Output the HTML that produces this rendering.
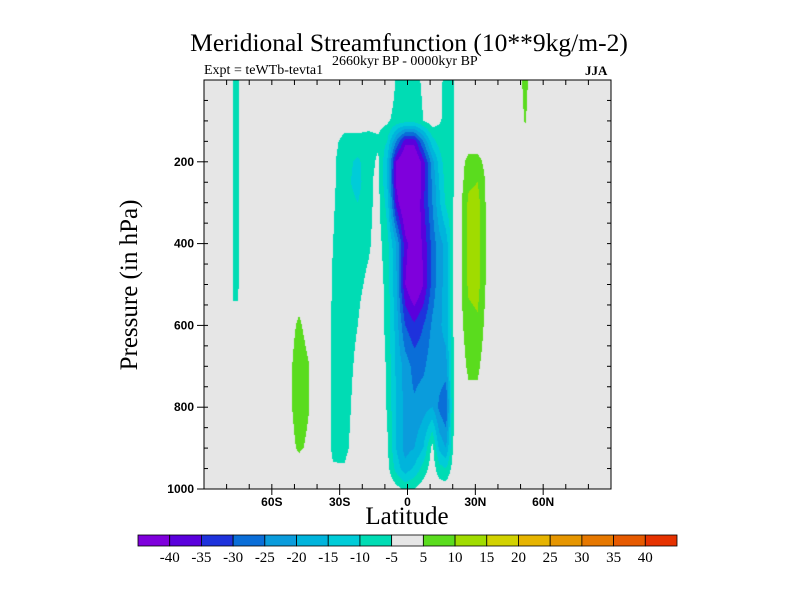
<!DOCTYPE html>
<html><head><meta charset="utf-8">
<style>
body{margin:0;background:#fff;width:800px;height:600px;overflow:hidden;position:relative;font-family:"Liberation Serif",serif}
.t{position:absolute;white-space:nowrap}
</style></head>
<body>
<div class="t" style="left:0;width:818px;text-align:center;top:28px;font-size:25.5px;">Meridional Streamfunction (10**9kg/m-2)</div>
<div class="t" style="left:204px;top:63px;font-size:14px;">Expt = teWTb-tevta1</div>
<div class="t" style="left:332px;top:54px;font-size:14px;">2660kyr BP - 0000kyr BP</div>
<div class="t" style="left:585px;top:63px;font-size:13px;font-weight:bold;">JJA</div>
<div class="t" style="left:130px;top:285px;font-size:25px;transform:translate(-50%,-50%) rotate(-90deg);">Pressure (in hPa)</div>
<div class="t" style="left:0;width:814px;text-align:center;top:503px;font-size:25px;">Latitude</div>
<canvas id="cv" width="407" height="409" style="position:absolute;left:204px;top:80px;"></canvas>
<svg id="ax" width="800" height="600" style="position:absolute;left:0;top:0"></svg>
<script>
const lats=[-90,-79,-77,-75,-73,-60,-52,-48,-44,-38,-33,-28,-22,-17,-13,-9,-5,-1,3,7,11,14,17,20,23,27,31,35,40,48,52,55,90];
const pres=[0,100,150,200,250,300,400,500,600,700,800,900,950,1000];
// rows by pressure, columns by latitude
const psi=[
/*0*/   [0,0,-6,-6,0,0,0,0,0,0,0,0,0,0,0,0,-5.5,-7,-7,-4,0,-4,-6,-6,0,0,0,0,0,2,6.5,3,0],
/*100*/ [0,0,-6,-6,0,0,0,0,0,0,0,-2,-2,-3,-3,-4,-7,-8,-8,-5,-2,-4.5,-6,-6,0,0,0,0,0,1,5.5,2,0],
/*150*/ [0,0,-6,-6,0,0,0,0,0,0,-3,-7,-7,-7,-6,-10,-25,-38,-38,-25,-12,-8,-6,-6,0,2,2,0,0,0,2,0,0],
/*200*/ [0,0,-6,-6,0,0,0,0,0,0,-4,-8,-11,-7,-4,-15,-40,-48,-48,-37,-22,-13,-7,-6,2,7,7,3,0,0,0,0,0],
/*250*/ [0,0,-6,-6,0,0,0,0,0,0,-4,-8,-12,-6,-3.5,-15,-41,-50,-50,-37,-24,-15,-8,-6,2,9,10,4,0,0,0,0,0],
/*300*/ [0,0,-6,-6,0,0,0,0,0,0,-4.5,-7.5,-10,-6,-3.5,-12,-37,-48,-48,-36,-25,-16,-9,-6,3,11,12,4,0,0,0,0,0],
/*400*/ [0,0,-6,-6,0,0,0,0,0,0,-5,-7,-7,-5.5,-3,-8,-20,-38,-45,-39,-28,-22,-18,-6,3,12,12,4,0,0,0,0,0],
/*500*/ [0,0,-6,-6,0,0,0,2,0,0,-5.5,-6.5,-6,-4,-2,-7,-19,-40,-47,-40,-28,-22,-18,-6,3,11,12,4,0,0,0,0,0],
/*600*/ [0,0,-3.5,-3.5,0,0,3,6,3,0,-6,-7,-5,-2,-1,-7,-17,-30,-34,-30,-24,-21,-18,-6,3,8,9,3,0,0,0,0,0],
/*700*/ [0,0,0,0,0,0,4,8,5.5,0,-6,-7,-4,-1,0,-6,-16,-22,-27,-26,-22,-22,-22,-6,2,6,6,2,0,0,0,0,0],
/*800*/ [0,0,0,0,0,0,4,8,5.5,0,-6,-7,-3,0,0,-5.5,-15,-22,-24,-22,-20,-26,-30,-6,0,3,3,0,0,0,0,0,0],
/*900*/ [0,0,0,0,0,0,3,6,4,0,-6,-6.5,-2,0,0,-4,-15,-22,-20,-15,-3,-16,-20,-5.5,0,0,0,0,0,0,0,0,0],
/*950*/ [0,0,0,0,0,0,0,2,0,0,-4.5,-4.5,-1,0,0,-3,-12,-18,-14,-8,-2,-8,-10,-3,0,0,0,0,0,0,0,0,0],
/*1000*/[0,0,0,0,0,0,0,0,0,0,0,0,0,0,0,0,-3,-6,-5,-2,0,-2,-2,0,0,0,0,0,0,0,0,0,0]
];
const levels=[-40,-35,-30,-25,-20,-15,-10,-5,5,10,15,20,25,30,35,40];
const colors=['#7f00dc','#5a00dc','#1e32dc','#0a6ed8','#0a9cdc','#00b4dc','#00ccd8','#00dcb4','#e6e6e6','#5adc1e','#a0dc00','#d2d200','#e6b400','#e69600','#e67800','#e65a00','#e63200'];
const latTicks=[-60,-30,0,30,60];
const latLabels=['60S','30S','0','30N','60N'];
const pTicks=[200,400,600,800,1000];

const X0=204,X1=611,Y0=80,Y1=489;
const xs=l=>X0+(l+90)/180*(X1-X0);
const ys=p=>Y0+p/1000*(Y1-Y0);
function seg(arr,v){let i=0;while(i<arr.length-2&&v>arr[i+1])i++;const f=(v-arr[i])/(arr[i+1]-arr[i]);return [i,Math.max(0,Math.min(1,f))];}
function val(l,p){const [i,fx]=seg(lats,l);const [j,fy]=seg(pres,p);
 const a=psi[j][i],b=psi[j][i+1],c=psi[j+1][i],d=psi[j+1][i+1];
 return (a*(1-fx)+b*fx)*(1-fy)+(c*(1-fx)+d*fx)*fy;}
function lev(v){let k=0;while(k<levels.length&&v>=levels[k])k++;return k;}
const cv=document.getElementById('cv');const ctx=cv.getContext('2d');
const W=cv.width,H=cv.height;const img=ctx.createImageData(W,H);
const rgb=colors.map(c=>[parseInt(c.substr(1,2),16),parseInt(c.substr(3,2),16),parseInt(c.substr(5,2),16)]);
for(let y=0;y<H;y++){const p=(y+0.5)/H*1000;for(let x=0;x<W;x++){const l=-90+(x+0.5)/W*180;
 const c=rgb[lev(val(l,p))];const o=(y*W+x)*4;img.data[o]=c[0];img.data[o+1]=c[1];img.data[o+2]=c[2];img.data[o+3]=255;}}
ctx.putImageData(img,0,0);

const svg=document.getElementById('ax');const NS='http://www.w3.org/2000/svg';
function mk(t,at,parent){const e=document.createElementNS(NS,t);for(const k in at)e.setAttribute(k,at[k]);(parent||svg).appendChild(e);return e;}
const frame=mk('rect',{x:X0,y:Y0,width:X1-X0,height:Y1-Y0,fill:'none',stroke:'#000','stroke-width':1});


for(let l=-80;l<=80;l+=10){const x=xs(l);
 mk('line',{x1:x,y1:Y1,x2:x,y2:Y1-5,stroke:'#000'});mk('line',{x1:x,y1:Y0,x2:x,y2:Y0+5,stroke:'#000'});}
latTicks.forEach((l,i)=>{const x=xs(l);
 mk('line',{x1:x,y1:Y1,x2:x,y2:Y1+6,stroke:'#000'});
 const t=mk('text',{x:x,y:Y1+17,'text-anchor':'middle','font-family':'Liberation Sans,sans-serif','font-size':12,'font-weight':'bold'});
 t.textContent=latLabels[i];
 
 });
for(let p=50;p<1000;p+=50){const y=ys(p);
 mk('line',{x1:X0,y1:y,x2:X0+4,y2:y,stroke:'#000'});mk('line',{x1:X1,y1:y,x2:X1-4,y2:y,stroke:'#000'});}
pTicks.forEach(p=>{const y=ys(p);
 mk('line',{x1:X0,y1:y,x2:X0-7,y2:y,stroke:'#000'});
 const t=mk('text',{x:X0-10,y:y+4,'text-anchor':'end','font-family':'Liberation Sans,sans-serif','font-size':12,'font-weight':'bold'});
 t.textContent=p;
 
 });
// colorbar
const CB0=138,CB1=677,CBY=535,CBH=11;const bw=(CB1-CB0)/colors.length;
colors.forEach((c,i)=>{const r=mk('rect',{x:CB0+i*bw,y:CBY,width:bw,height:CBH,fill:c,stroke:'#000','stroke-width':0.8});
 
 });
levels.forEach((v,i)=>{const t=mk('text',{x:CB0+(i+1)*bw,y:CBY+27,'text-anchor':'middle','font-family':'Liberation Serif,serif','font-size':15});
 t.textContent=v;
 
 });
</script>
</body></html>
